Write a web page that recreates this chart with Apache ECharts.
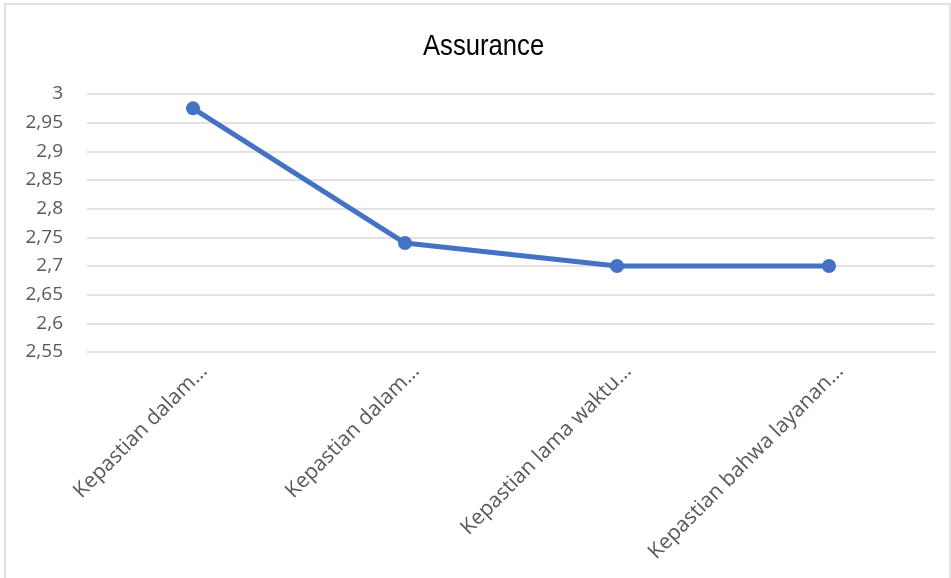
<!DOCTYPE html>
<html lang="en">
  <head>
    <meta charset="UTF-8" />
    <title>Assurance</title>
    <script src="https://cdn.jsdelivr.net/npm/echarts@6/dist/echarts.min.js"></script>
    <style>
      html,
      body {
        margin: 0;
        padding: 0;
        background: #fff;
      }
      #main {
        width: 951px;
        height: 578px;
      }
    </style>
  </head>
  <body>
    <div id="main"></div>
    <script>
      // data
      const categories = [
        "Kepastian dalam…",
        "Kepastian dalam…",
        "Kepastian lama waktu…",
        "Kepastian bahwa layanan…",
      ];
      const values = [2.975, 2.74, 2.7, 2.7];
      const yMin = 2.55;
      const yMax = 3;
      const yStep = 0.05;

      const labelFont = "'Open Sans', sans-serif";

      const chart = echarts.init(document.getElementById("main"));
      chart.setOption({
        animation: false,
        graphic: [
          {
            type: "rect",
            shape: { x: 5, y: 4, width: 945, height: 590 },
            style: { fill: "none", stroke: "#d9d9d9", lineWidth: 1.5 },
            silent: true,
          },
          {
            // narrow title, like Arial Narrow
            type: "text",
            x: 423,
            y: 62,
            scaleX: 0.855,
            style: {
              text: "Assurance",
              font: "30px 'Liberation Sans', sans-serif",
              fill: "#000",
              textVerticalAlign: "bottom",
            },
            silent: true,
          },
        ],
        grid: { left: 87, right: 16, top: 94, bottom: 226 },
        xAxis: {
          type: "category",
          data: categories,
          boundaryGap: true,
          axisLine: { show: false },
          axisTick: { show: false },
          axisLabel: {
            rotate: 45,
            interval: 0,
            margin: 5,
            padding: [5, 0, 0, 0],
            verticalAlign: "top",
            fontFamily: labelFont,
            fontSize: 21,
            color: "#595959",
          },
        },
        yAxis: {
          type: "value",
          min: yMin,
          max: yMax,
          interval: yStep,
          axisLine: { show: false },
          axisTick: { show: false },
          splitLine: { lineStyle: { color: "#d9d9d9", width: 1.5 } },
          axisLabel: {
            margin: 24,
            fontFamily: labelFont,
            fontSize: 19,
            color: "#595959",
            formatter: (v) => String(Math.round(v * 100) / 100).replace(".", ","),
          },
        },
        series: [
          {
            type: "line",
            data: values,
            symbol: "circle",
            symbolSize: 14,
            lineStyle: { color: "#4472C4", width: 5 },
            itemStyle: { color: "#4472C4" },
          },
        ],
      });
    </script>
  </body>
</html>
